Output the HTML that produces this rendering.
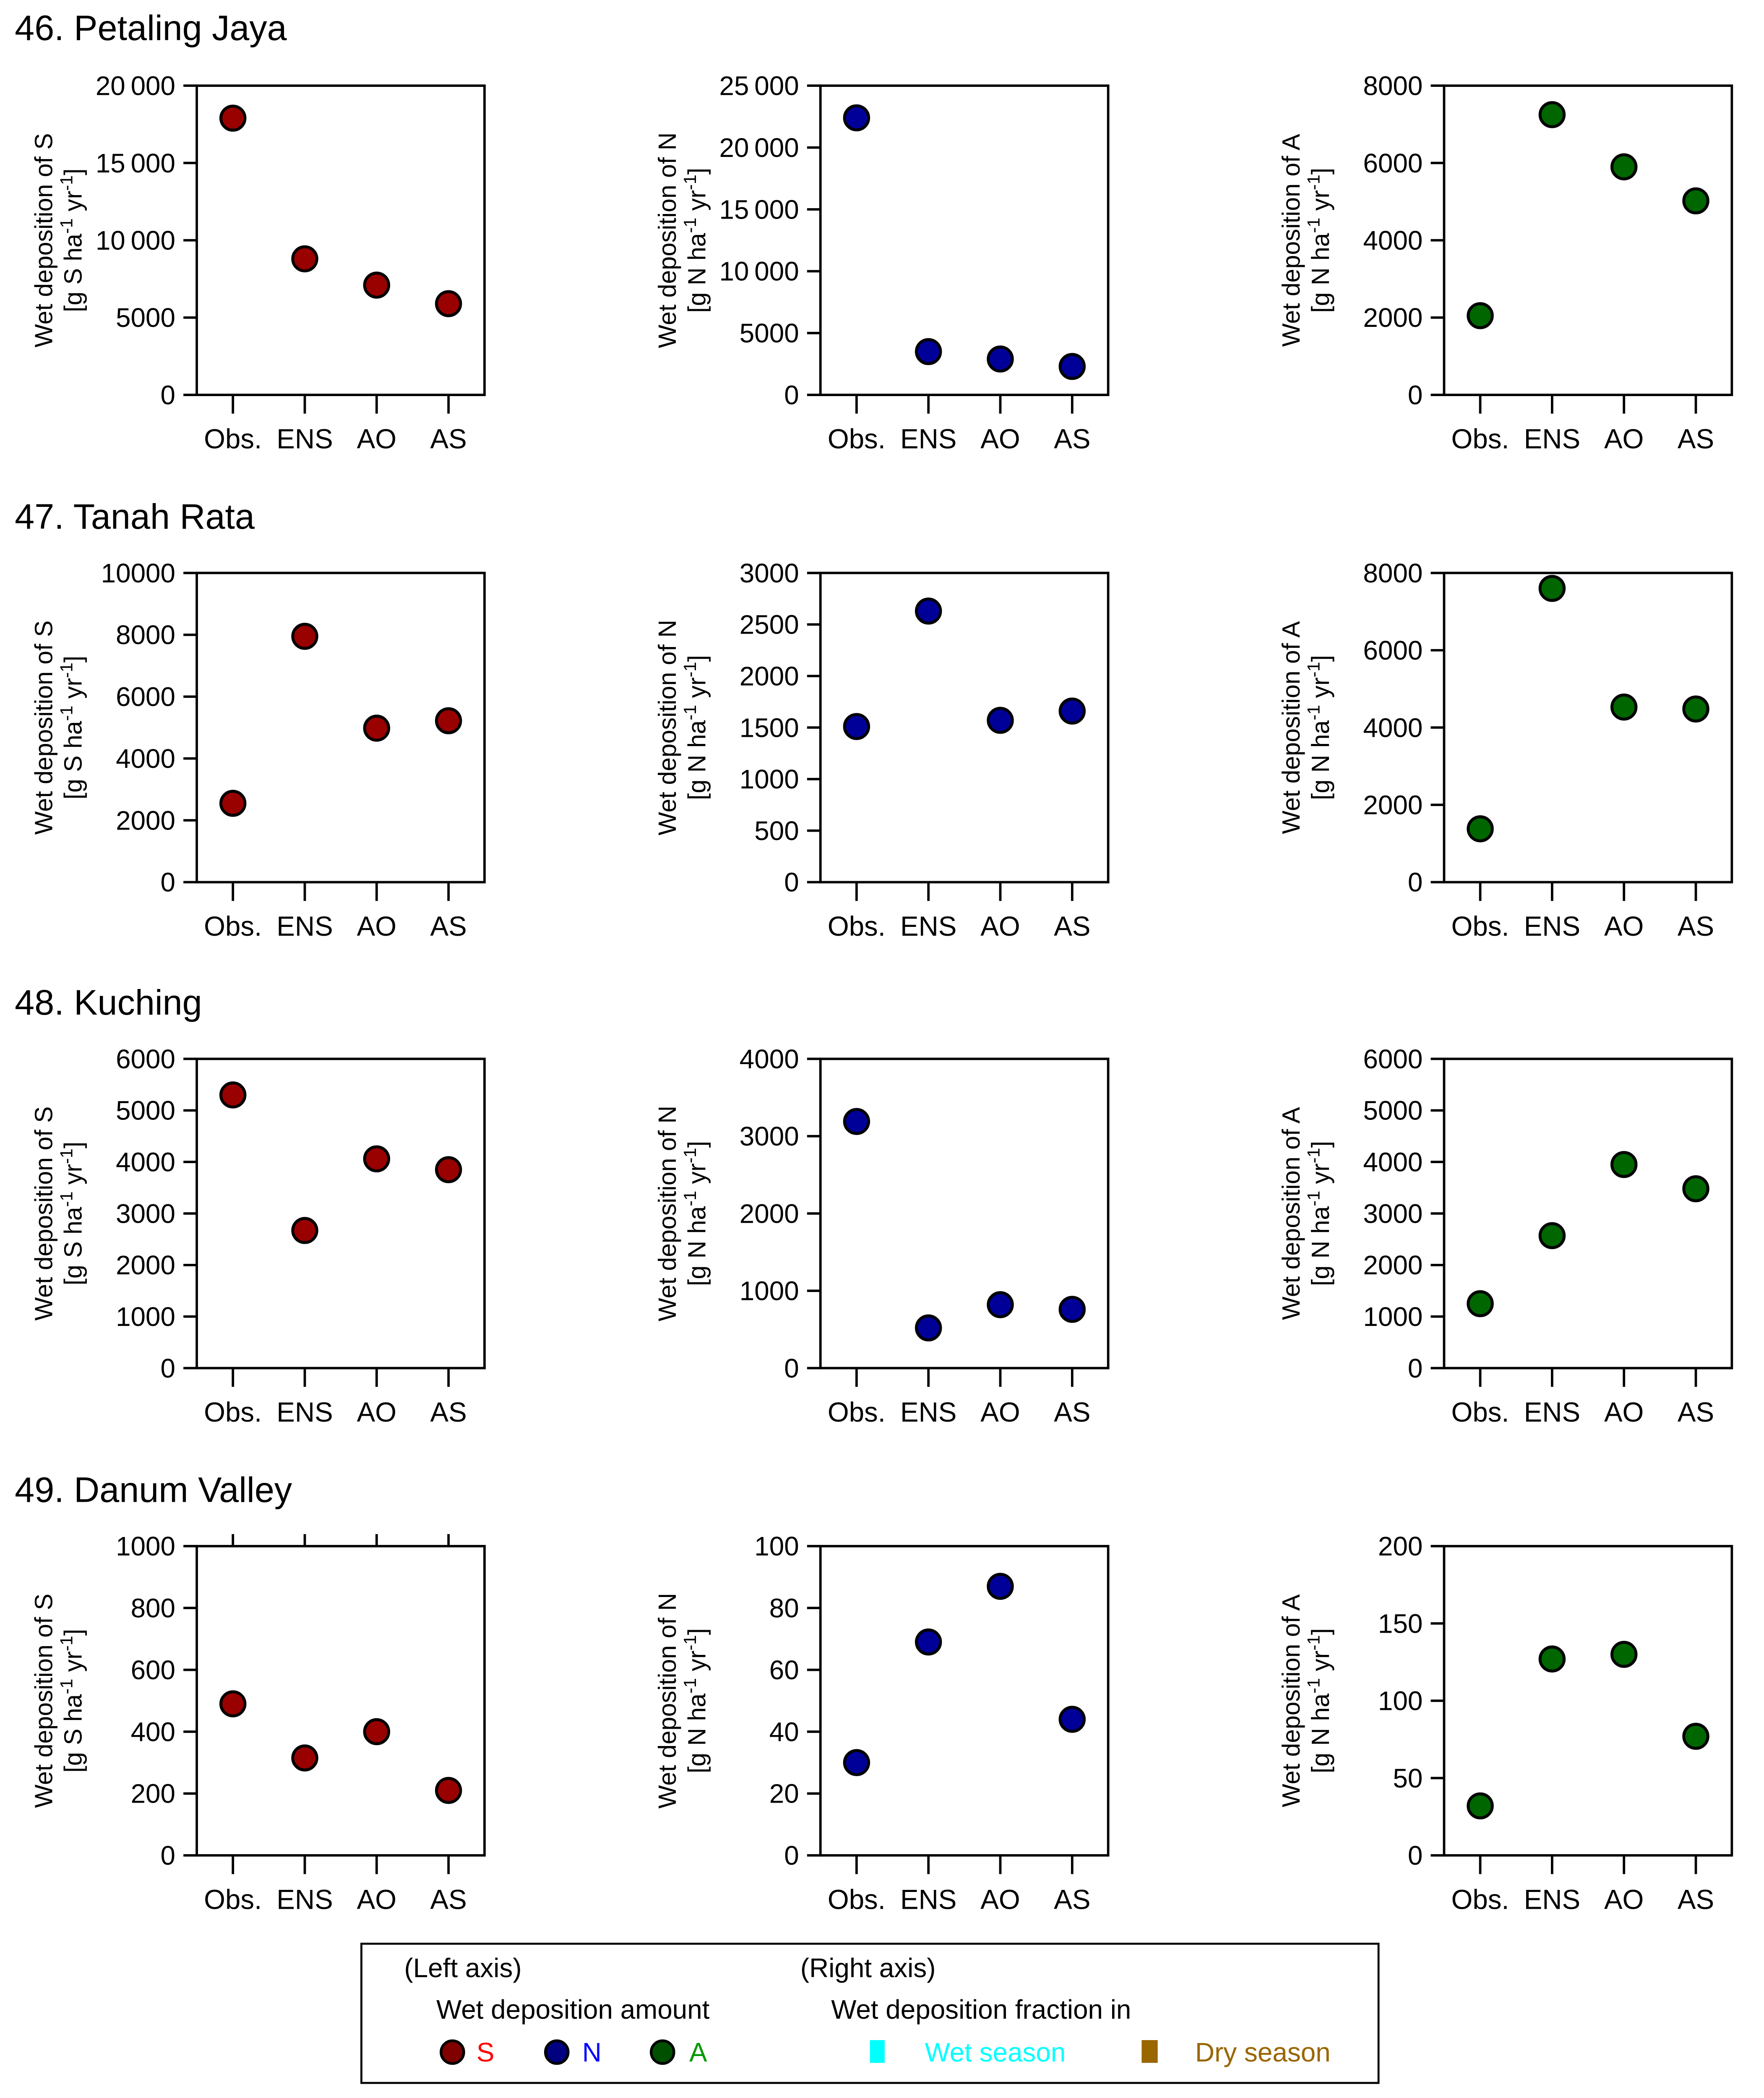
<!DOCTYPE html>
<html><head><meta charset="utf-8"><style>
html,body{margin:0;padding:0;background:#fff;width:4205px;height:5048px;overflow:hidden;}
svg{display:block;position:absolute;left:0;top:0;font-family:"Liberation Sans",Arial,sans-serif;}
</style></head><body>
<svg id="fig" width="4205" height="5048" viewBox="0 0 1318 1582.3" xmlns="http://www.w3.org/2000/svg">
<rect x="0" y="0" width="1318" height="1582" fill="#fff"/>
<g id="panels"></g>
<g>
  <rect x="270" y="1452" width="760" height="104" fill="#fff" stroke="#000" stroke-width="1.5"/>
  <text x="302" y="1477" font-size="20">(Left axis)</text>
  <text x="598" y="1477" font-size="20">(Right axis)</text>
  <text x="326" y="1508" font-size="20">Wet deposition amount</text>
  <text x="621" y="1508" font-size="20">Wet deposition fraction in</text>
  <circle cx="338" cy="1533" r="8.5" fill="#800000" stroke="#000" stroke-width="2"/>
  <text x="356" y="1540" font-size="20" fill="#ff0000">S</text>
  <circle cx="416" cy="1533" r="8.5" fill="#000080" stroke="#000" stroke-width="2"/>
  <text x="435" y="1540" font-size="20" fill="#0000ff">N</text>
  <circle cx="495" cy="1533" r="8.5" fill="#005000" stroke="#000" stroke-width="2"/>
  <text x="515" y="1540" font-size="20" fill="#009900">A</text>
  <rect x="650" y="1524" width="11" height="17" fill="#00ffff"/>
  <text x="691" y="1540" font-size="20" fill="#00ffff">Wet season</text>
  <rect x="853" y="1524" width="12" height="17" fill="#996600"/>
  <text x="893" y="1540" font-size="20" fill="#996600">Dry season</text>
</g>
</svg>
<script>
const categories = ["Obs.", "ENS", "AO", "AS"];
const stations = ["46. Petaling Jaya", "47. Tanah Rata", "48. Kuching", "49. Danum Valley"];
const species = ["S", "N", "A"];
const valuesS = [[17900, 8800, 7100, 5900], [2550, 7950, 4980, 5220], [5300, 2670, 4060, 3850], [490, 315, 400, 210]];
const valuesN = [[22400, 3500, 2900, 2300], [1510, 2630, 1570, 1660], [3190, 520, 820, 760], [30, 69, 87, 44]];
const valuesA = [[2050, 7250, 5900, 5020], [1380, 7600, 4530, 4480], [1250, 2570, 3950, 3480], [32, 127, 130, 77]];
const yMaxS = [20000, 10000, 6000, 1000];
const yMaxN = [25000, 3000, 4000, 100];
const yMaxA = [8000, 8000, 6000, 200];
const tickStepS = [5000, 2000, 1000, 200];
const tickStepN = [5000, 500, 1000, 20];
const tickStepA = [2000, 2000, 1000, 50];
const fills = {S: "#990000", N: "#000099", A: "#006600"};
const units = {S: "g S ha", N: "g N ha", A: "g N ha"};

const NS = "http://www.w3.org/2000/svg";
const root = document.getElementById("panels");
function mk(tag, attrs, parent, text) {
  const e = document.createElementNS(NS, tag);
  for (const k in attrs) e.setAttribute(k, attrs[k]);
  if (text !== undefined) e.textContent = text;
  parent.appendChild(e);
  return e;
}
function fmt(v, max) {
  if (v >= 10000 && max >= 20000) return String(v).replace(/(\d+)(\d{3})$/, "$1\u2009$2");
  return String(v);
}
const colX = [147, 613, 1079];
const rowY = [64, 428, 791, 1155];
const titleY = [30, 395, 758, 1122];
const W = 215, H = 231;

for (let r = 0; r < 4; r++) {
  const t = mk("text", {x: 11, y: titleY[r], "font-size": 26.5}, root, stations[r]);
  
  
  for (let c = 0; c < 3; c++) {
    const sp = species[c];
    const vals = [valuesS, valuesN, valuesA][c][r];
    const ymax = [yMaxS, yMaxN, yMaxA][c][r];
    const step = [tickStepS, tickStepN, tickStepA][c][r];
    const x0 = colX[c], y0 = rowY[r];
    const g = mk("g", {}, root);
    
    
    const yS = v => y0 + H - v / ymax * H;
    const xS = i => x0 + 27 + i * 53.7;
    mk("rect", {x: x0, y: y0, width: W, height: H, fill: "none", stroke: "#000", "stroke-width": 1.8}, g);
    for (let v = 0; v <= ymax + 1e-9; v += step) {
      const yy = yS(v);
      mk("line", {x1: x0 - 10, x2: x0, y1: yy, y2: yy, stroke: "#000", "stroke-width": 1.8}, g);
      const tl = mk("text", {x: x0 - 16, y: yy + 7, "font-size": 20, "text-anchor": "end"}, g, fmt(v, ymax));
      
      
    }
    for (let i = 0; i < 4; i++) {
      mk("line", {x1: xS(i), x2: xS(i), y1: y0 + H, y2: y0 + H + 14, stroke: "#000", "stroke-width": 1.8}, g);
      if (r === 3 && c === 0) mk("line", {x1: xS(i), x2: xS(i), y1: y0 - 9, y2: y0, stroke: "#000", "stroke-width": 1.8}, g);
      const xl = mk("text", {x: xS(i), y: y0 + H + 40, "font-size": 20.5, "text-anchor": "middle"}, g, categories[i]);
      
      
    }
    const cy = y0 + H / 2, tx = x0 - 108;
    const yt = mk("text", {x: tx, y: cy, "font-size": 18.5, "text-anchor": "middle", transform: `rotate(-90 ${tx} ${cy})`}, g, "Wet deposition of " + sp);
    
    
    const tx2 = x0 - 86;
    const yu = mk("text", {x: tx2, y: cy, "font-size": 18.5, "text-anchor": "middle", transform: `rotate(-90 ${tx2} ${cy})`}, g);
    
    
    mk("tspan", {}, yu, "[" + units[sp]);
    mk("tspan", {dy: -7, "font-size": 13}, yu, "-1");
    mk("tspan", {dy: 7}, yu, " yr");
    mk("tspan", {dy: -7, "font-size": 13}, yu, "-1");
    mk("tspan", {dy: 7}, yu, "]");
    for (let i = 0; i < 4; i++) {
      const p = mk("circle", {cx: xS(i), cy: yS(vals[i]), r: 9, fill: fills[sp], stroke: "#000", "stroke-width": 2.2}, g);
      
      
    }
  }
}
</script>
</body></html>
